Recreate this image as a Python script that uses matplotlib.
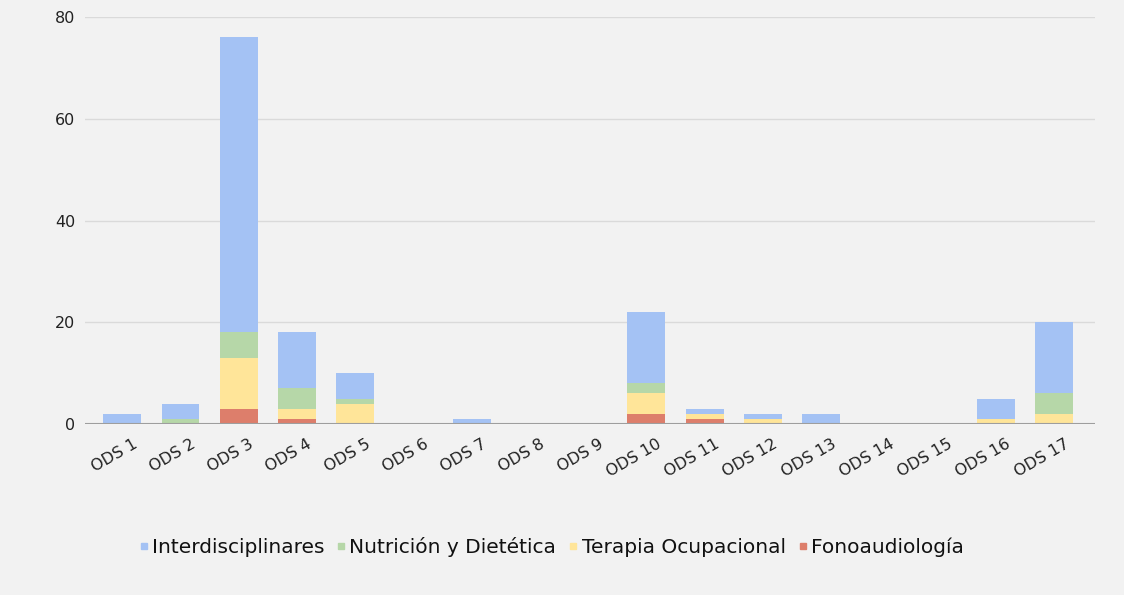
import numpy as np
import matplotlib.pyplot as plt
import matplotlib.transforms as mtransforms
from matplotlib.lines import Line2D

plt.rcParams['font.family'] = ['DejaVu Sans']

# categories and series
categories = ['ODS 1', 'ODS 2', 'ODS 3', 'ODS 4', 'ODS 5', 'ODS 6', 'ODS 7', 'ODS 8', 'ODS 9',
              'ODS 10', 'ODS 11', 'ODS 12', 'ODS 13', 'ODS 14', 'ODS 15', 'ODS 16', 'ODS 17']
fonoaudiologia = [0, 0, 3, 1, 0, 0, 0, 0, 0, 2, 1, 0, 0, 0, 0, 0, 0]
terapia = [0, 0, 10, 2, 4, 0, 0, 0, 0, 4, 1, 1, 0, 0, 0, 1, 2]
nutricion = [0, 1, 5, 4, 1, 0, 0, 0, 0, 2, 0, 0, 0, 0, 0, 0, 4]
interdisc = [2, 3, 58, 11, 5, 0, 1, 0, 0, 14, 1, 1, 2, 0, 0, 4, 14]

series_names = ['Interdisciplinares', 'Nutrición y Dietética', 'Terapia Ocupacional', 'Fonoaudiología']
colors = ['#a4c2f4', '#b6d7a8', '#ffe599', '#dd7e6b']

bg = '#f2f2f2'
fig = plt.figure(figsize=(11.24, 5.95), dpi=100, facecolor=bg)
ax = fig.add_axes([0.0756, 0.2874, 0.8984, 0.684])
ax.set_facecolor(bg)

x = np.arange(len(categories))
w = 0.65
bottom = np.zeros(len(categories))
stack = [(fonoaudiologia, colors[3]), (terapia, colors[2]), (nutricion, colors[1]), (interdisc, colors[0])]
for vals, c in stack:
    vals = np.array(vals, dtype=float)
    ax.bar(x, vals, w, bottom=bottom, color=c, edgecolor='none', zorder=3)
    bottom += vals

ax.set_xlim(-0.64, 16.7)
ax.set_ylim(0, 80)
ax.set_yticks([0, 20, 40, 60, 80])
ax.grid(axis='y', color='#dadada', linewidth=1, zorder=0)
ax.axhline(0, color='#9e9e9e', linewidth=1.5, zorder=4)
for s in ax.spines.values():
    s.set_visible(False)
ax.tick_params(axis='both', length=0, labelsize=11.5, colors='#222222')
ax.tick_params(axis='y', pad=7)
ax.set_xticks(x)
ax.set_xticklabels(categories, rotation=30, ha='right', rotation_mode='anchor')
ax.tick_params(axis='x', pad=9)
# shift the rotated labels a little to the right, like the original
shift = mtransforms.ScaledTranslation(0.10, 0, fig.dpi_scale_trans)
for lbl in ax.get_xticklabels():
    lbl.set_transform(lbl.get_transform() + shift)

handles = [Line2D([], [], marker='s', linestyle='none', markersize=5, color=c) for c in colors]
fig.legend(handles, series_names, loc='center', bbox_to_anchor=(0.489, 0.081), ncol=4,
           frameon=False, fontsize=14.5, handletextpad=0.0, columnspacing=0.45,
           handlelength=0.8, labelcolor='#111111')

fig.savefig('out.png', dpi=100, facecolor=bg)
